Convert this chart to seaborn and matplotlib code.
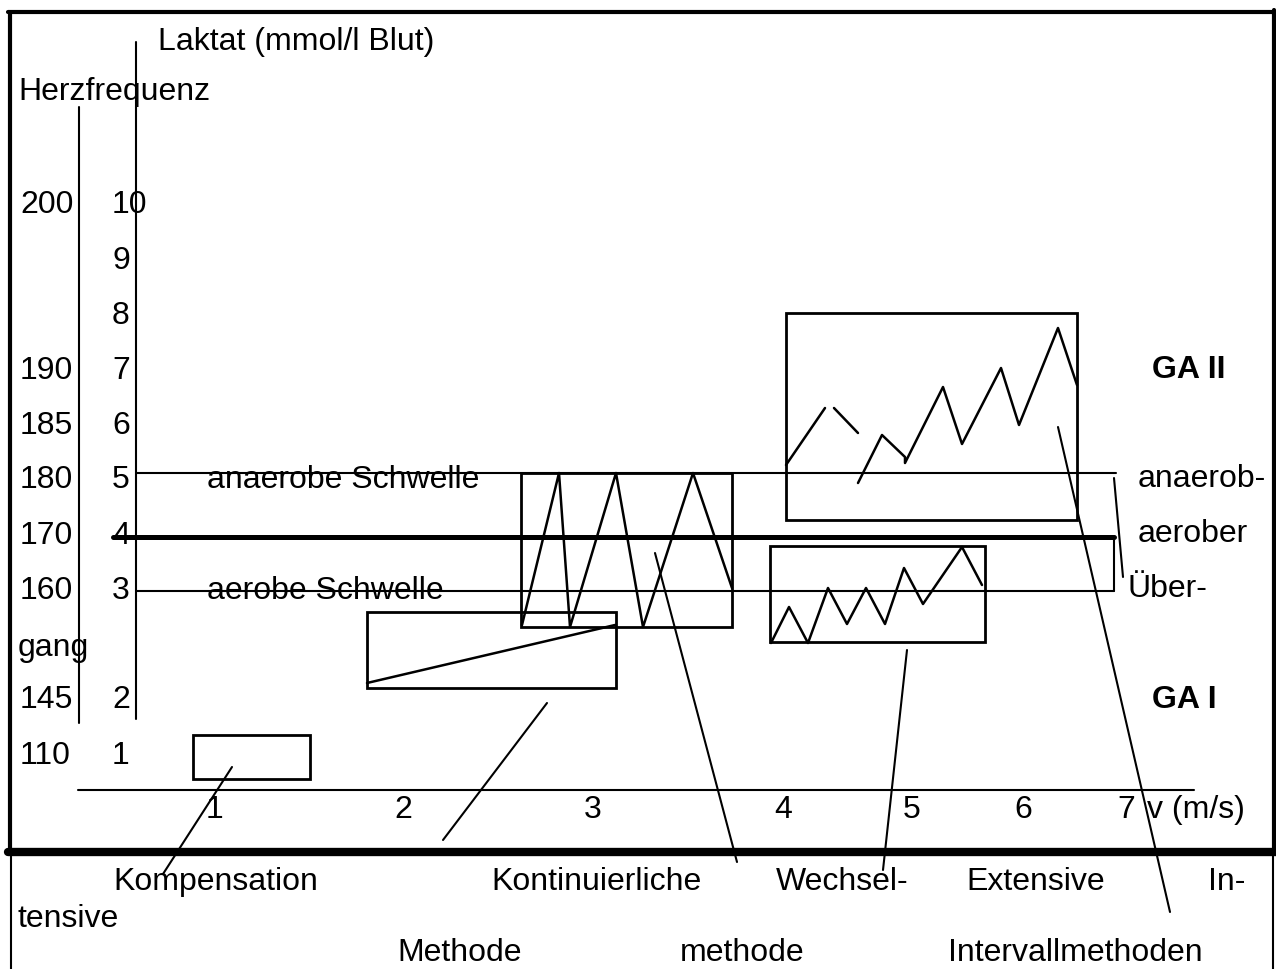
import matplotlib
matplotlib.use("Agg")
import matplotlib.pyplot as plt
from matplotlib.patches import Rectangle
import seaborn as sns

# axis labels (Herzfrequenz / Laktat) with their baselines in the drawing
hf_labels = ["200", "190", "185", "180", "170", "160", "145", "110"]
hf_y = [213, 379, 434, 488, 544, 599, 708, 764]
lak_labels = ["10", "9", "8", "7", "6", "5", "4", "3", "2", "1"]
lak_y = [213, 269, 324, 379, 434, 488, 544, 599, 708, 764]
v_labels = ["1", "2", "3", "4", "5", "6", "7"]
v_x = [215, 403, 593, 783, 912, 1023, 1126]

# threshold lines (y level)
anaerob_y, aerob_y, uebergang_y = 473, 591, 537

# method boxes: (x0, y0, x1, y1)
boxes = {
    "Kompensation": (193, 735, 310, 779),
    "Kontinuierliche": (367, 612, 616, 688),
    "Wechsel": (521, 473, 732, 627),
    "Extensive": (770, 546, 985, 642),
    "Intensive": (786, 313, 1077, 520),
}

# curves inside boxes
kont_x = [367, 615]
kont_y = [683, 625]
wechsel_x = [522, 559, 570, 616, 643, 693, 732]
wechsel_y = [625, 473, 627, 473, 627, 473, 588]
ext_x = [771, 789, 808, 828, 847, 866, 885, 904, 923, 962, 982]
ext_y = [643, 607, 643, 588, 624, 588, 624, 568, 604, 547, 585]
int1_x = [786, 825]
int1_y = [465, 408]
int2_x = [834, 858]
int2_y = [408, 433]
int3_x = [858, 882, 905, 905, 943, 962, 1001, 1019, 1058, 1077]
int3_y = [483, 435, 457, 463, 387, 444, 368, 425, 328, 385]

# pointer lines from boxes to the method names
pointers = [
    ((232, 767), (163, 874)),
    ((547, 703), (443, 840)),
    ((655, 553), (737, 862)),
    ((907, 650), (883, 870)),
    ((1058, 427), (1170, 912)),
]

sns.set_theme(style="white")
plt.rcParams["font.family"] = ["Liberation Sans", "DejaVu Sans"]
plt.rcParams["text.color"] = "black"
fs = 23

fig = plt.figure(figsize=(12.76, 9.69), dpi=100)
ax = fig.add_axes([0, 0, 1, 1])
ax.set_xlim(0, 1276)
ax.set_ylim(969, 0)
ax.axis("off")

k = "black"
thin = 1.5

# outer frame
ax.plot([10, 10], [12, 852], color=k, lw=3)
ax.plot([8, 1274], [12, 12], color=k, lw=3)
ax.plot([1274, 1274], [10, 852], color=k, lw=3)
ax.plot([8, 1276], [852, 852], color=k, lw=6)
ax.plot([11, 11], [856, 969], color=k, lw=thin)
ax.plot([1273, 1273], [856, 969], color=k, lw=thin)

# axes
ax.plot([79, 79], [107, 723], color=k, lw=thin)
ax.plot([136, 136], [42, 719], color=k, lw=thin)
ax.plot([78, 1194], [790, 790], color=k, lw=thin)

ax.text(158, 50, "Laktat (mmol/l Blut)", fontsize=fs, va="baseline")
ax.text(18, 100, "Herzfrequenz", fontsize=fs, va="baseline")
for lab, y in zip(hf_labels, hf_y):
    ax.text(20, y, lab, fontsize=fs, va="baseline")
for lab, y in zip(lak_labels, lak_y):
    ax.text(112, y, lab, fontsize=fs, va="baseline")
for lab, x in zip(v_labels, v_x):
    ax.text(x, 818, lab, fontsize=fs, va="baseline", ha="center")
ax.text(1147, 818, "v (m/s)", fontsize=fs, va="baseline")

# threshold lines
ax.plot([136, 1116], [anaerob_y, anaerob_y], color=k, lw=thin)
ax.plot([136, 1114], [aerob_y, aerob_y], color=k, lw=thin)
ax.plot([113, 1114], [uebergang_y, uebergang_y], color=k, lw=3.6)
ax.plot([1114, 1114], [uebergang_y, aerob_y], color=k, lw=thin)
ax.plot([1114, 1123], [478, 577], color=k, lw=thin)
ax.text(207, 488, "anaerobe Schwelle", fontsize=fs, va="baseline")
ax.text(207, 599, "aerobe Schwelle", fontsize=fs, va="baseline")
ax.text(1138, 487, "anaerob-", fontsize=fs, va="baseline")
ax.text(1138, 542, "aerober", fontsize=fs, va="baseline")
ax.text(1128, 597, "Über-", fontsize=fs, va="baseline")
ax.text(18, 656, "gang", fontsize=fs, va="baseline")
ax.text(1152, 378, "GA II", fontsize=fs, va="baseline", weight="bold")
ax.text(1152, 708, "GA I", fontsize=fs, va="baseline", weight="bold")

for x0, y0, x1, y1 in boxes.values():
    ax.add_patch(Rectangle((x0, y0), x1 - x0, y1 - y0, fill=False,
                           edgecolor=k, lw=2))

for xs, ys in [(kont_x, kont_y), (wechsel_x, wechsel_y), (ext_x, ext_y),
               (int1_x, int1_y), (int2_x, int2_y), (int3_x, int3_y)]:
    sns.lineplot(x=xs, y=ys, sort=False, estimator=None, color=k,
                 lw=1.8, ax=ax)

for (xa, ya), (xb, yb) in pointers:
    ax.plot([xa, xb], [ya, yb], color=k, lw=thin)

# method names below
ax.text(113, 890, "Kompensation", fontsize=fs, va="baseline")
ax.text(491, 890, "Kontinuierliche", fontsize=fs, va="baseline")
ax.text(776, 890, "Wechsel-", fontsize=fs, va="baseline")
ax.text(966, 890, "Extensive", fontsize=fs, va="baseline")
ax.text(1208, 890, "In-", fontsize=fs, va="baseline")
ax.text(18, 927, "tensive", fontsize=fs, va="baseline")
ax.text(397, 961, "Methode", fontsize=fs, va="baseline")
ax.text(680, 961, "methode", fontsize=fs, va="baseline")
ax.text(948, 961, "Intervallmethoden", fontsize=fs, va="baseline")

fig.savefig("out.png", dpi=100)
